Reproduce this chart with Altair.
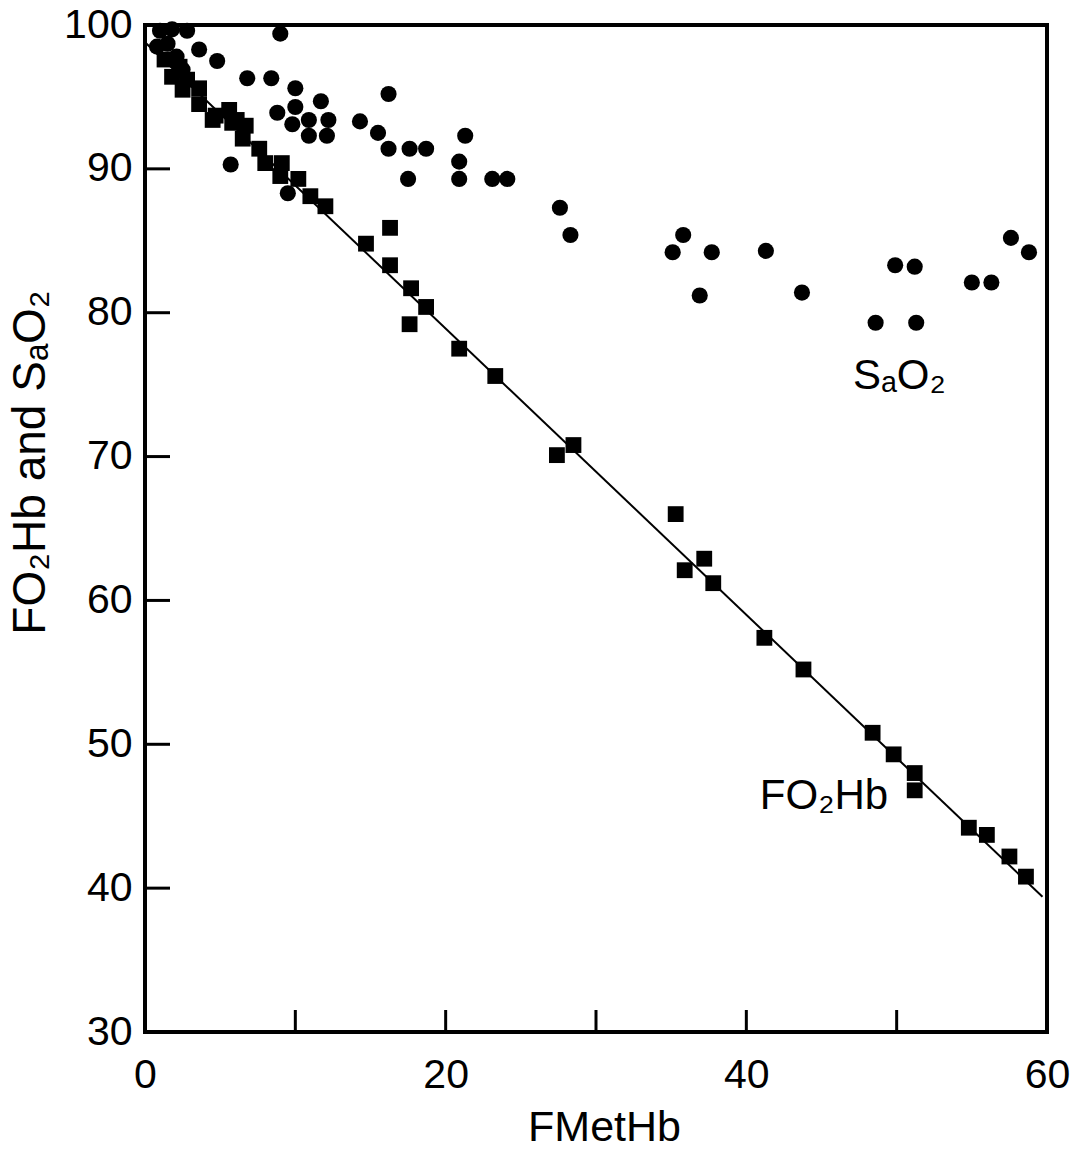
import altair as alt
import pandas as pd

# ---- data ----
sao2_x = [1.0, 1.8, 2.8, 0.8, 1.5, 2.1, 3.6, 4.8, 2.5,
          9.0, 6.8, 8.4, 10.0, 11.7, 8.8, 10.0, 9.8, 10.9, 12.2, 10.9, 12.1,
          14.3, 15.5, 16.2, 16.2, 17.6, 18.7, 17.5, 21.3, 20.9, 20.9, 5.7, 9.5,
          23.1, 24.1, 27.6, 28.3, 35.8, 35.1, 37.7, 36.9, 41.3,
          43.7, 49.9, 51.2, 48.6, 51.3, 55.0, 56.3, 57.6, 58.8]
sao2_y = [99.6, 99.7, 99.6, 98.5, 98.7, 97.8, 98.3, 97.5, 96.9,
          99.4, 96.3, 96.3, 95.6, 94.7, 93.9, 94.3, 93.1, 93.4, 93.4, 92.3, 92.3,
          93.3, 92.5, 95.2, 91.4, 91.4, 91.4, 89.3, 92.3, 90.5, 89.3, 90.3, 88.3,
          89.3, 89.3, 87.3, 85.4, 85.4, 84.2, 84.2, 81.2, 84.3,
          81.4, 83.3, 83.2, 79.3, 79.3, 82.1, 82.1, 85.2, 84.2]

fo2hb_x = [1.3, 1.8, 2.3, 2.8, 3.6, 2.5, 3.6, 4.5, 4.7, 5.6, 5.8, 6.1, 6.7, 6.5,
           7.6, 8.0, 9.1, 9.0, 10.2, 11.0, 12.0, 14.7, 16.3, 16.3, 17.7, 17.6,
           18.7, 20.9, 23.3, 27.4, 28.5, 35.3, 35.9, 37.2, 37.8, 41.2, 43.8,
           48.4, 49.8, 51.2, 51.2, 54.8, 56.0, 57.5, 58.6]
fo2hb_y = [97.6, 96.4, 97.1, 96.2, 95.6, 95.5, 94.5, 93.4, 93.7, 94.1, 93.2, 93.4, 93.0, 92.1,
           91.4, 90.4, 90.4, 89.5, 89.3, 88.1, 87.4, 84.8, 85.9, 83.3, 81.7, 79.2,
           80.4, 77.5, 75.6, 70.1, 70.8, 66.0, 62.1, 62.9, 61.2, 57.4, 55.2,
           50.8, 49.3, 48.0, 46.8, 44.2, 43.7, 42.2, 40.8]

fit_x = [0.0, 59.7]
fit_y = [98.8, 39.4]

x_ticks_inner = [10, 20, 30, 40, 50]
y_ticks_inner = [40, 50, 60, 70, 80, 90]
x_label_values = [0, 20, 40, 60]
y_label_values = [30, 40, 50, 60, 70, 80, 90, 100]

ann_text = ["S\u2090O\u2082", "FO\u2082Hb"]
ann_x = [47.1, 40.9]
ann_y = [74.7, 45.5]

FONT = "Liberation Sans"
W, H = 902, 1007
TOP = 17

xs = alt.Scale(domain=[0, 60], nice=False, zero=False)
ys = alt.Scale(domain=[30, 100], nice=False, zero=False)

df_s = pd.DataFrame({"x": sao2_x, "y": sao2_y})
df_f = pd.DataFrame({"x": fo2hb_x, "y": fo2hb_y})
df_fit = pd.DataFrame({"x": fit_x, "y": fit_y})
df_xt = pd.DataFrame({"x": x_ticks_inner})
df_yt = pd.DataFrame({"y": y_ticks_inner})
df_ann = pd.DataFrame({"t": ann_text, "x": ann_x, "y": ann_y})

x_axis = alt.Axis(values=x_label_values, ticks=False, domain=False, grid=False,
                  labelFont=FONT, labelFontSize=41, labelColor="black",
                  labelBaseline="alphabetic", labelPadding=55, labelFlush=False,
                  title="FMetHb", titleFont=FONT, titleFontSize=43,
                  titleFontWeight="normal", titleColor="black",
                  titleBaseline="alphabetic", titleY=1140 - 8 - TOP - H,
                  titleX=W / 2 + 8)
y_axis = alt.Axis(values=y_label_values, ticks=False, domain=False, grid=False,
                  labelFont=FONT, labelFontSize=41, labelColor="black",
                  labelPadding=13, labelFlush=False,
                  title="FO\u2082Hb and S\u2090O\u2082", titleFont=FONT, titleFontSize=46,
                  titleFontWeight="normal", titleColor="black",
                  titleAngle=270, titleAlign="center", titleBaseline="alphabetic",
                  titleX=-101, titleY=462 - 8 - TOP)

X = alt.X("x:Q", scale=xs, axis=x_axis)
Y = alt.Y("y:Q", scale=ys, axis=y_axis)

circles = alt.Chart(df_s).mark_point(shape="circle", filled=True, color="black",
                                     opacity=1, size=260).encode(x=X, y=Y)
squares = alt.Chart(df_f).mark_point(shape="square", filled=True, color="black",
                                     opacity=1, size=250).encode(x=X, y=Y)
fit = alt.Chart(df_fit).mark_line(color="black", strokeWidth=2).encode(x=X, y=Y)
xt = alt.Chart(df_xt).mark_rule(color="black", strokeWidth=3).encode(
    x=X,
    y=alt.value(H),
    y2=alt.value(H - 22),
)
yt = alt.Chart(df_yt).mark_rule(color="black", strokeWidth=3).encode(
    y=Y,
    x=alt.value(0),
    x2=alt.value(25),
)
ann = alt.Chart(df_ann).mark_text(font=FONT, fontSize=42, color="black",
                                  align="left", baseline="alphabetic").encode(
    x=X, y=Y, text="t:N",
)

chart = alt.layer(fit, squares, circles, xt, yt, ann).properties(
    width=W, height=H,
    autosize=alt.AutoSizeParams(type="none"),
    padding={"left": 137, "top": TOP, "right": 1064 - 137 - W,
             "bottom": 1142 - TOP - H},
    background="white",
).configure_view(stroke="black", strokeWidth=4)

chart.save("out.html", embed_options={"renderer": "svg", "actions": False})
